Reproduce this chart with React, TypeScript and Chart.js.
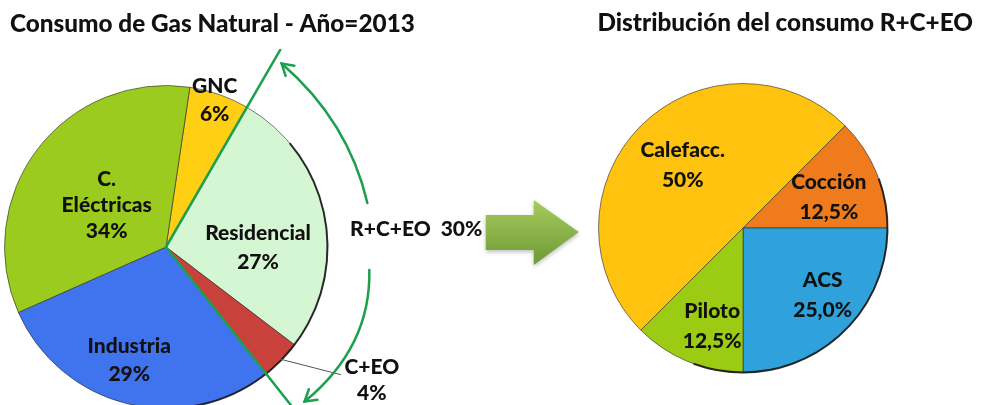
import React, { useEffect, useRef } from "react";
import { Chart, registerables } from "chart.js";

Chart.register(...registerables);

// ---------- data ----------
const mainCategories = ["GNC", "Residencial", "C+EO", "Industria", "C. Eléctricas"];
const mainValues = [6, 27, 4, 29, 34];
const mainLabelLines = [["GNC", "6%"], ["Residencial", "27%"], ["C+EO", "4%"], ["Industria", "29%"], ["C.", "Eléctricas", "34%"]];

const subCategories = ["Cocción", "ACS", "Piloto", "Calefacc."];
const subValues = [12.5, 25, 12.5, 50];
const subLabelLines = [["Cocción", "12,5%"], ["ACS", "25,0%"], ["Piloto", "12,5%"], ["Calefacc.", "50%"]];

const groupLabel = "R+C+EO  30%";
const leftTitle = "Consumo de Gas Natural - Año=2013";
const rightTitle = "Distribución del consumo R+C+EO";

// ---------- styles ----------
const mainColors = ["#FFCF14", "#D5F6D3", "#C8423B", "#3F74EE", "#9ACB1E"];
const subColors = ["#F07B1C", "#2FA2DB", "#9CCB14", "#FFC20E"];
const GREEN = "#1E9F4F";
const FONT = "Lato, 'Open Sans', sans-serif";
const TITLE_FONT = `900 24.3px ${FONT}`;
const LABEL_FONT = `900 21px ${FONT}`;
// label placement: [radius fraction, angle nudge in degrees, line height]
const mainLabelPlace = [[0.96, -1, 28], [0.57, 12, 29], [1.52, -11.5, 26], [0.74, 4, 28], [0.45, -2, 26]];
const subLabelPlace = [[0.63, 3, 30], [0.72, -5, 30], [0.71, -5, 30], [0.6, 1, 30]];

function drawLines(ctx: CanvasRenderingContext2D, lines: string[], x: number, y: number, lh: number) {
  const y0 = y - ((lines.length - 1) * lh) / 2;
  lines.forEach((t, i) => ctx.fillText(t, x, y0 + i * lh));
}

function chevron(ctx: CanvasRenderingContext2D, tx: number, ty: number, fx: number, fy: number, len: number) {
  const ang = Math.atan2(ty - fy, tx - fx);
  ctx.beginPath();
  ctx.moveTo(tx - len * Math.cos(ang - 0.55), ty - len * Math.sin(ang - 0.55));
  ctx.lineTo(tx, ty);
  ctx.lineTo(tx - len * Math.cos(ang + 0.55), ty - len * Math.sin(ang + 0.55));
  ctx.stroke();
}

function rim(ctx: CanvasRenderingContext2D, cx: number, cy: number, r: number, from: number, to: number) {
  ctx.save();
  ctx.strokeStyle = "rgba(20,20,20,0.85)";
  ctx.lineWidth = 2;
  ctx.beginPath();
  ctx.arc(cx, cy, r, (from * Math.PI) / 180, (to * Math.PI) / 180);
  ctx.stroke();
  ctx.restore();
}

const leftDecor = {
  id: "leftDecor",
  afterDatasetsDraw(chart: any) {
    const ctx: CanvasRenderingContext2D = chart.ctx;
    const arcs = chart.getDatasetMeta(0).data as any[];
    const cx = arcs[0].x, cy = arcs[0].y, r = arcs[0].outerRadius;
    rim(ctx, cx, cy, r, -40, 100);
    ctx.save();
    // title
    ctx.fillStyle = "#111";
    ctx.font = TITLE_FONT;
    ctx.textAlign = "left";
    ctx.textBaseline = "middle";
    ctx.fillText(leftTitle, 10, 24);

    // slice labels
    ctx.font = LABEL_FONT;
    ctx.textAlign = "center";
    arcs.forEach((a, i) => {
      const [f, nudge, lh] = mainLabelPlace[i];
      const mid = (a.startAngle + a.endAngle) / 2 + (nudge * Math.PI) / 180;
      const x = cx + Math.cos(mid) * r * f;
      const y = cy + Math.sin(mid) * r * f;
      drawLines(ctx, mainLabelLines[i], x, y, lh);
      if (f > 1) {
        const m0 = (a.startAngle + a.endAngle) / 2;
        ctx.strokeStyle = "#555";
        ctx.lineWidth = 1;
        ctx.beginPath();
        ctx.moveTo(cx + Math.cos(m0) * r * 0.99, cy + Math.sin(m0) * r * 0.99);
        ctx.lineTo(x - 31, y - 6);
        ctx.stroke();
      }
    });

    // group boundary lines
    const a1 = arcs[1].startAngle, a2 = arcs[2].endAngle;
    ctx.strokeStyle = GREEN;
    ctx.lineWidth = 2.5;
    ctx.lineCap = "round";
    ctx.beginPath();
    ctx.moveTo(cx, cy);
    ctx.lineTo(cx + Math.cos(a1) * r * 1.41, cy + Math.sin(a1) * r * 1.41);
    ctx.moveTo(cx, cy);
    ctx.lineTo(cx + Math.cos(a2) * r * 1.7, cy + Math.sin(a2) * r * 1.7);
    ctx.stroke();

    // curved arrows (in pie-radius units relative to the centre)
    const P = (u: number, v: number) => [cx + u * r, cy + v * r];
    const curves = [
      [P(1.247, -0.272), P(1.13, -0.778), P(0.716, -1.136)],
      [P(1.259, 0.142), P(1.27, 0.62), P(0.858, 0.957)],
    ];
    curves.forEach(([s, c, e]) => {
      ctx.beginPath();
      ctx.moveTo(s[0], s[1]);
      ctx.quadraticCurveTo(c[0], c[1], e[0], e[1]);
      ctx.stroke();
      chevron(ctx, e[0], e[1], c[0], c[1], 13);
    });

    // group label
    ctx.fillStyle = "#111";
    ctx.font = LABEL_FONT;
    ctx.textAlign = "left";
    ctx.fillText(groupLabel, cx + r * 1.14, cy - 18);

    // big transition arrow
    const ax = cx + r * 1.98, ay = cy - 15;
    const g = ctx.createLinearGradient(0, ay - 33, 0, ay + 33);
    g.addColorStop(0, "#A7CC5E");
    g.addColorStop(1, "#6E9A34");
    ctx.fillStyle = g;
    ctx.shadowColor = "rgba(0,0,0,0.25)";
    ctx.shadowBlur = 4;
    ctx.shadowOffsetY = 2;
    ctx.beginPath();
    ctx.moveTo(ax, ay - 17);
    ctx.lineTo(ax + 48, ay - 17);
    ctx.lineTo(ax + 48, ay - 32);
    ctx.lineTo(ax + 93, ay);
    ctx.lineTo(ax + 48, ay + 33);
    ctx.lineTo(ax + 48, ay + 18);
    ctx.lineTo(ax, ay + 18);
    ctx.closePath();
    ctx.fill();
    ctx.restore();
  },
};

const rightDecor = {
  id: "rightDecor",
  afterDatasetsDraw(chart: any) {
    const ctx: CanvasRenderingContext2D = chart.ctx;
    const arcs = chart.getDatasetMeta(0).data as any[];
    const cx = arcs[0].x, cy = arcs[0].y, r = arcs[0].outerRadius;
    rim(ctx, cx, cy, r, -20, 110);
    ctx.save();
    ctx.fillStyle = "#111";
    ctx.font = TITLE_FONT;
    ctx.textAlign = "right";
    ctx.textBaseline = "middle";
    ctx.fillText(rightTitle, 973, 23);
    ctx.font = LABEL_FONT;
    ctx.textAlign = "center";
    arcs.forEach((a, i) => {
      const [f, nudge, lh] = subLabelPlace[i];
      const mid = (a.startAngle + a.endAngle) / 2 + (nudge * Math.PI) / 180;
      drawLines(ctx, subLabelLines[i], cx + Math.cos(mid) * r * f, cy + Math.sin(mid) * r * f, lh);
    });
    ctx.restore();
  },
};

export default function App() {
  const leftRef = useRef<HTMLCanvasElement>(null);
  const rightRef = useRef<HTMLCanvasElement>(null);

  useEffect(() => {
    const common = {
      responsive: false,
      animation: false as const,
      devicePixelRatio: 1,
      events: [] as any[],
      plugins: { legend: { display: false }, tooltip: { enabled: false }, title: { display: false } },
    };
    const left = new Chart(leftRef.current!, {
      type: "pie",
      data: {
        labels: mainCategories,
        datasets: [{ data: mainValues, backgroundColor: mainColors, borderColor: "rgba(40,40,40,0.6)", borderWidth: 1 }],
      },
      options: { ...common, rotation: 8.5, layout: { padding: { left: 4, right: 654, top: 85, bottom: 11 } } },
      plugins: [leftDecor],
    });
    const right = new Chart(rightRef.current!, {
      type: "pie",
      data: {
        labels: subCategories,
        datasets: [{ data: subValues, backgroundColor: subColors, borderColor: "rgba(40,40,40,0.6)", borderWidth: 1 }],
      },
      options: { ...common, rotation: 45, layout: { padding: { left: 598, right: 94, top: 83, bottom: 32 } } },
      plugins: [rightDecor],
    });
    return () => {
      left.destroy();
      right.destroy();
    };
  }, []);

  return (
    <div style={{ position: "fixed", left: 0, top: 0, width: 982, height: 405, overflow: "hidden", background: "#fff" }}>
      <canvas ref={leftRef} width={982} height={420} style={{ position: "absolute", left: 0, top: 0 }} />
      <canvas ref={rightRef} width={982} height={405} style={{ position: "absolute", left: 0, top: 0 }} />
    </div>
  );
}
